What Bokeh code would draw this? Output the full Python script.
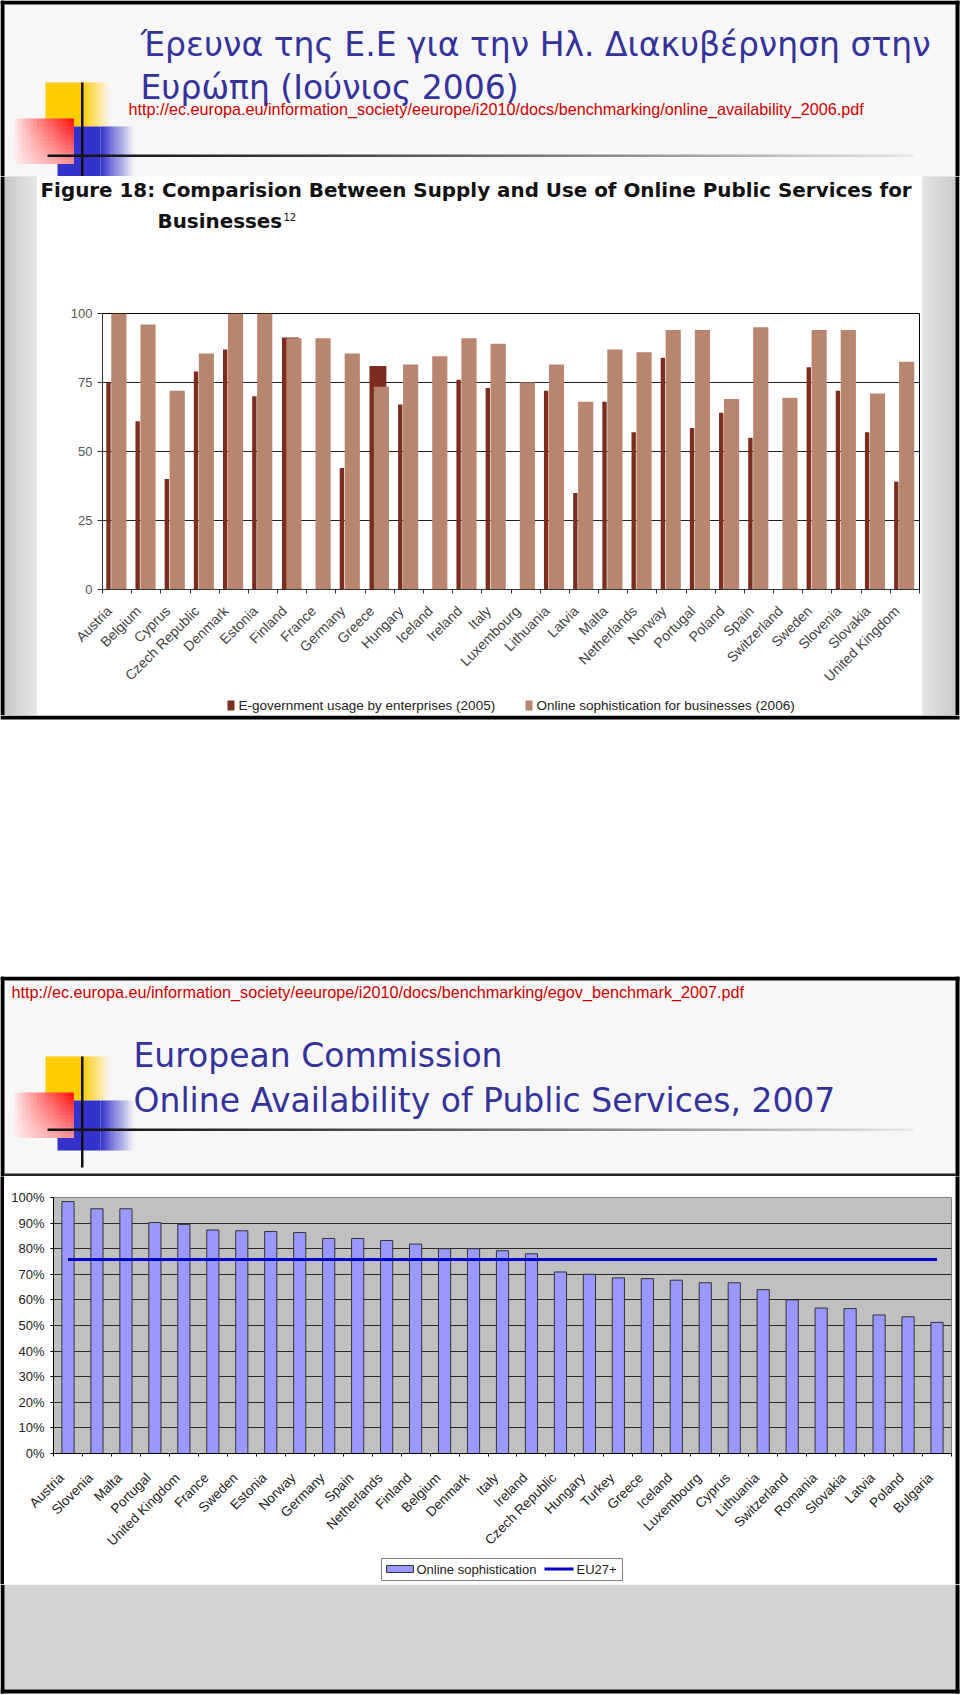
import math
import numpy as np
from bokeh.plotting import figure
from bokeh.models import Range1d, FixedTicker, PrintfTickFormatter
from bokeh.layouts import column, row
from bokeh.embed import file_html
from bokeh.resources import INLINE
from bokeh.core.properties import value

# ============================ DATA ============================
slide1_title = ["Έρευνα της Ε.Ε για την Ηλ. Διακυβέρνηση στην", "Ευρώπη (Ιούνιος 2006)"]
slide1_url = "http://ec.europa.eu/information_society/eeurope/i2010/docs/benchmarking/online_availability_2006.pdf"
fig18_title = "Figure 18: Comparision Between Supply and Use of Online Public Services for"
fig18_title2 = "Businesses"
fig18_note = "12"

countries_2006 = ["Austria", "Belgium", "Cyprus", "Czech Republic", "Denmark", "Estonia",
                  "Finland", "France", "Germany", "Greece", "Hungary", "Iceland", "Ireland",
                  "Italy", "Luxembourg", "Lithuania", "Latvia", "Malta", "Netherlands",
                  "Norway", "Portugal", "Poland", "Spain", "Switzerland", "Sweden",
                  "Slovenia", "Slovakia", "United Kingdom"]
usage_2005 = [75, 61, 40, 79, 87, 70, 91.3, None, 44, 81, 67, None, 76, 73, None, 72, 35,
              68, 57, 84, 58.5, 64, 55, None, 80.5, 72, 57, 39]
soph_2006 = [100, 96, 72, 85.5, 100, 100, 91, 91, 85.5, 73.5, 81.5, 84.5, 91, 89, 75, 81.5,
             68, 87, 86, 94, 94, 69, 95, 69.5, 94, 94, 71, 82.5]
series_2006 = ["E-government usage by enterprises (2005)",
               "Online sophistication for businesses (2006)"]
yticks_2006 = [0, 25, 50, 75, 100]

slide2_url = "http://ec.europa.eu/information_society/eeurope/i2010/docs/benchmarking/egov_benchmark_2007.pdf"
slide2_title = ["European Commission", "Online Availability of Public Services, 2007"]
countries_2007 = ["Austria", "Slovenia", "Malta", "Portugal", "United Kingdom", "France",
                  "Sweden", "Estonia", "Norway", "Germany", "Spain", "Netherlands", "Finland",
                  "Belgium", "Denmark", "Italy", "Ireland", "Czech Republic", "Hungary",
                  "Turkey", "Greece", "Iceland", "Luxembourg", "Cyprus", "Lithuania",
                  "Switzerland", "Romania", "Slovakia", "Latvia", "Poland", "Bulgaria"]
online_soph_2007 = [98.4, 95.6, 95.6, 90.2, 89.5, 87.3, 87.0, 86.7, 86.3, 84.0, 84.0, 83.2,
                    81.8, 80.0, 80.0, 79.2, 78.0, 70.9, 70.0, 68.6, 68.3, 67.7, 66.7, 66.7,
                    64.0, 60.0, 56.8, 56.6, 54.1, 53.4, 51.2]
eu27_2007 = 75.8
series_2007 = ["Online sophistication", "EU27+"]
yticks_2007 = [0, 10, 20, 30, 40, 50, 60, 70, 80, 90, 100]

# ============================ STYLE ============================
FONT = "Liberation Sans"
TFONT = "DejaVu Sans"
NAVY = "#333399"
URL_RED = "#CC0000"
SLIDE_BG = "#F7F7F7"
DARK_BAR = "#7B2D20"
LIGHT_BAR = "#B8866F"
BLUE_BAR = "#9999FF"
EU_LINE = "#0000CC"
WIDE_DARK = {"Finland", "Greece"}   # bars drawn wide in the source picture
LABEL_SHIFT_1 = -0.27               # rotated tick labels sit a bit left of the bar centre
LABEL_SHIFT_2 = -0.22


def hexmix(c1, c2, t):
    t = min(max(t, 0.0), 1.0)
    a = [int(c1[i:i + 2], 16) for i in (1, 3, 5)]
    b = [int(c2[i:i + 2], 16) for i in (1, 3, 5)]
    return "#%02x%02x%02x" % tuple(int(round(a[k] + (b[k] - a[k]) * t)) for k in range(3))


def canvas(x0, x1, y0, y1, bg="#FFFFFF"):
    p = figure(width=x1 - x0, height=y1 - y0, x_range=Range1d(x0, x1), y_range=Range1d(y1, y0),
               x_axis_type=None, y_axis_type=None, toolbar_location=None, output_backend="svg",
               min_border=0, outline_line_color=None, background_fill_color=bg,
               border_fill_color=bg)
    return p


def box(p, l, r, t, b, color, line=None, lw=1):
    p.quad(left=[l], right=[r], top=[t], bottom=[b], fill_color=color,
           line_color=line, line_width=lw)


def hgrad(p, l, r, t, b, c1, c2, n=24, gamma=1.0):
    xs = np.linspace(l, r, n + 1)
    cols = [hexmix(c1, c2, ((k + 0.5) / n) ** gamma) for k in range(n)]
    p.quad(left=xs[:-1], right=xs[1:] + 0.4, top=[t] * n, bottom=[b] * n,
           fill_color=cols, line_color=None)


def txt(p, x, y, s, px, color, font=FONT, style="normal", align="left"):
    # y is the wanted baseline; the renderer puts the glyph box ~0.35em lower
    p.text(x=[x], y=[y - 0.35 * px], text=[s], text_font=value(font),
           text_font_size="%.1fpx" % px, text_color=color, text_font_style=style,
           text_align=align, text_baseline="alphabetic")


def logo(p, dy, bg):
    box(p, 45, 82, 1056 + dy, 1100 + dy, "#FFCC00")
    hgrad(p, 82, 110, 1056 + dy, 1100 + dy, "#FFCC00", bg, n=14)
    box(p, 57, 100, 1100 + dy, 1150 + dy, "#3333CC")
    hgrad(p, 100, 134, 1100 + dy, 1150 + dy, "#3333CC", bg, n=16)
    nx, ny = 16, 12
    xs = np.linspace(14, 73, nx + 1)
    ys = np.linspace(1092 + dy, 1137 + dy, ny + 1)
    L, R, T, B, C = [], [], [], [], []
    for i in range(nx):
        for j in range(ny):
            tx = (i + 0.5) / nx
            ty = (j + 0.5) / ny
            t = (tx ** 0.8) * (1 - 0.6 * ty)
            L.append(xs[i]); R.append(xs[i + 1] + 0.4)
            T.append(ys[j]); B.append(ys[j + 1] + 0.4)
            C.append(hexmix("#FFF2F2", "#FF0A0A", t))
    p.quad(left=L, right=R, top=T, bottom=B, fill_color=C, line_color=None)
    box(p, 80.5, 83, 1056 + dy, 1167 + dy, "#111111")
    hgrad(p, 47, 912, 1128 + dy, 1130.5 + dy, "#111111", "#E8E8E8", n=70, gamma=1.3)


# ============================ SLIDE 1 ============================
h1 = canvas(0, 960, 0, 176, SLIDE_BG)
box(h1, 959, 960, 0, 176, "#FFFFFF")
logo(h1, -974, SLIDE_BG)
txt(h1, 140, 56, slide1_title[0], 33, NAVY, font=TFONT)
txt(h1, 140, 99, slide1_title[1], 33, NAVY, font=TFONT)
txt(h1, 128, 114, slide1_url, 16.2, URL_RED)
box(h1, 0, 959, 0, 4, "#000000")
box(h1, 0, 4, 0, 176, "#000000")
box(h1, 955, 959, 0, 176, "#000000")

ls = canvas(0, 37, 176, 715, "#D8D8D8")
hgrad(ls, 4, 37, 176, 715, "#C8C8C8", "#E8E8E8", n=20)
box(ls, 0, 4, 176, 715, "#000000")

rs = canvas(922, 960, 176, 715, "#D8D8D8")
hgrad(rs, 922, 955, 176, 715, "#E4E4E4", "#CACACA", n=20)
box(rs, 955, 959, 176, 715, "#000000")
box(rs, 959, 960, 176, 715, "#FFFFFF")

t1 = canvas(37, 922, 176, 240, "#FFFFFF")
txt(t1, 40, 197, fig18_title, 19.9, "#111111", font=TFONT, style="bold")
txt(t1, 157, 228, fig18_title2, 19.9, "#111111", font=TFONT, style="bold")
txt(t1, 283, 220, fig18_note, 10, "#111111", font=TFONT)

n1 = len(countries_2006)
idx1 = list(range(n1))
p1 = figure(width=885, height=456, x_range=Range1d(-0.5, n1 - 0.5), y_range=Range1d(0, 100),
            toolbar_location=None, output_backend="svg",
            min_border_left=65, min_border_right=3, min_border_top=73, min_border_bottom=107,
            background_fill_color="#FFFFFF", border_fill_color="#FFFFFF",
            outline_line_color="#000000", outline_line_width=1)
usage = np.array([np.nan if v is None else v for v in usage_2005], dtype=float)
wide = [c in WIDE_DARK for c in countries_2006]
dark_x = [i + (-0.06 if w else -0.295) for i, w in zip(idx1, wide)]
dark_w = [0.58 if w else 0.15 for w in wide]
p1.vbar(x=dark_x, width=dark_w, top=usage, bottom=0, fill_color=DARK_BAR, line_color=None)
p1.vbar(x=[i + 0.06 for i in idx1], width=0.52, top=soph_2006, bottom=0,
        fill_color=LIGHT_BAR, line_color=None)

lab1 = [round(i + LABEL_SHIFT_1, 3) for i in idx1]
xa = p1.xaxis[0]
xa.ticker = FixedTicker(ticks=lab1, minor_ticks=[i - 0.5 for i in idx1] + [n1 - 0.5])
xa.major_label_overrides = {t: c for t, c in zip(lab1, countries_2006)}
xa.major_label_orientation = math.pi / 4
xa.major_tick_in = 0
xa.major_tick_out = 0
xa.minor_tick_in = 0
xa.minor_tick_out = 4
xa.minor_tick_line_color = "#333333"
xa.axis_line_color = "#333333"
xa.major_label_standoff = 15
xa.major_label_text_font = FONT
xa.major_label_text_font_size = "14px"
xa.major_label_text_color = "#444444"

ya = p1.yaxis[0]
ya.ticker = FixedTicker(ticks=yticks_2006)
ya.major_tick_in = 0
ya.major_tick_out = 5
ya.minor_tick_line_color = None
ya.axis_line_color = "#333333"
ya.major_tick_line_color = "#333333"
ya.major_label_standoff = 5
ya.major_label_text_font = FONT
ya.major_label_text_font_size = "13px"
ya.major_label_text_color = "#555555"
p1.xgrid.visible = False
p1.ygrid.ticker = FixedTicker(ticks=yticks_2006[1:-1])
p1.ygrid.grid_line_color = "#222222"

l1 = canvas(37, 922, 696, 715, "#FFFFFF")
box(l1, 227, 234, 700, 710, DARK_BAR)
txt(l1, 238, 710, series_2006[0], 13.5, "#222222")
box(l1, 525, 532, 700, 710, LIGHT_BAR)
txt(l1, 536, 710, series_2006[1], 13.5, "#222222")

gap = canvas(0, 960, 715, 976, "#FFFFFF")
box(gap, 0, 959, 715, 719, "#000000")

# ============================ SLIDE 2 ============================
h2 = canvas(0, 960, 976, 1176, SLIDE_BG)
box(h2, 959, 960, 976, 1176, "#FFFFFF")
logo(h2, 0, SLIDE_BG)
txt(h2, 11, 997, slide2_url, 16.2, URL_RED)
txt(h2, 133, 1067, slide2_title[0], 33, NAVY, font=TFONT)
txt(h2, 133, 1112, slide2_title[1], 33, NAVY, font=TFONT)
box(h2, 4, 955, 1173, 1176, "#222222")
box(h2, 0, 959, 976, 980, "#000000")
box(h2, 0, 4, 976, 1176, "#000000")
box(h2, 955, 959, 976, 1176, "#000000")

lb = canvas(0, 4, 1176, 1584, "#000000")
rb = canvas(955, 960, 1176, 1584, "#000000")
box(rb, 959, 960, 1176, 1584, "#FFFFFF")

n2 = len(countries_2007)
idx2 = list(range(n2))
p2 = figure(width=951, height=381, x_range=Range1d(-0.5, n2 - 0.5), y_range=Range1d(0, 100),
            toolbar_location=None, output_backend="svg",
            min_border_left=49, min_border_right=4, min_border_top=21, min_border_bottom=102,
            background_fill_color="#C0C0C0", border_fill_color="#FFFFFF",
            outline_line_color="#808080", outline_line_width=1)
p2.vbar(x=idx2, width=0.42, top=online_soph_2007, bottom=0, fill_color=BLUE_BAR,
        line_color="#333333", line_width=1)
p2.line(x=[idx2[0], idx2[-1]], y=[eu27_2007, eu27_2007], line_color=EU_LINE, line_width=3)

lab2 = [round(i + LABEL_SHIFT_2, 3) for i in idx2]
xb = p2.xaxis[0]
xb.ticker = FixedTicker(ticks=lab2, minor_ticks=[i - 0.5 for i in idx2] + [n2 - 0.5])
xb.major_label_overrides = {t: c for t, c in zip(lab2, countries_2007)}
xb.major_label_orientation = math.pi / 4
xb.major_tick_in = 0
xb.major_tick_out = 0
xb.minor_tick_in = 0
xb.minor_tick_out = 3
xb.minor_tick_line_color = "#000000"
xb.axis_line_color = "#000000"
xb.major_label_standoff = 19
xb.major_label_text_font = FONT
xb.major_label_text_font_size = "13.5px"
xb.major_label_text_color = "#222222"

yb = p2.yaxis[0]
yb.ticker = FixedTicker(ticks=yticks_2007)
yb.formatter = PrintfTickFormatter(format="%d%%")
yb.major_tick_in = 0
yb.major_tick_out = 3
yb.minor_tick_line_color = None
yb.axis_line_color = "#000000"
yb.major_tick_line_color = "#000000"
yb.major_label_standoff = 6
yb.major_label_text_font = FONT
yb.major_label_text_font_size = "13px"
yb.major_label_text_color = "#222222"
p2.xgrid.visible = False
p2.ygrid.ticker = FixedTicker(ticks=yticks_2007[1:-1])
p2.ygrid.grid_line_color = "#2A2A2A"

l2 = canvas(4, 955, 1557, 1584, "#FFFFFF")
box(l2, 381, 622, 1558, 1580, "#FFFFFF", line="#808080", lw=1)
box(l2, 386, 413, 1565, 1572, BLUE_BAR, line="#333333", lw=1)
txt(l2, 416, 1573.5, series_2007[0], 13, "#222222")
l2.line(x=[544, 573], y=[1568.5, 1568.5], line_color=EU_LINE, line_width=3)
txt(l2, 576, 1573.5, series_2007[1], 13, "#222222")

ft = canvas(0, 960, 1584, 1695, "#FFFFFF")
box(ft, 4, 955, 1584, 1689, "#D3D3D3")
box(ft, 0, 4, 1584, 1693, "#000000")
box(ft, 955, 959, 1584, 1693, "#000000")
box(ft, 0, 959, 1689, 1693, "#000000")

page = column(
    h1,
    row(ls, column(row(t1), row(p1), row(l1)), rs),
    gap,
    h2,
    row(lb, column(row(p2), row(l2)), rb),
    ft,
)

open("out.html", "w").write(file_html(page, INLINE))
